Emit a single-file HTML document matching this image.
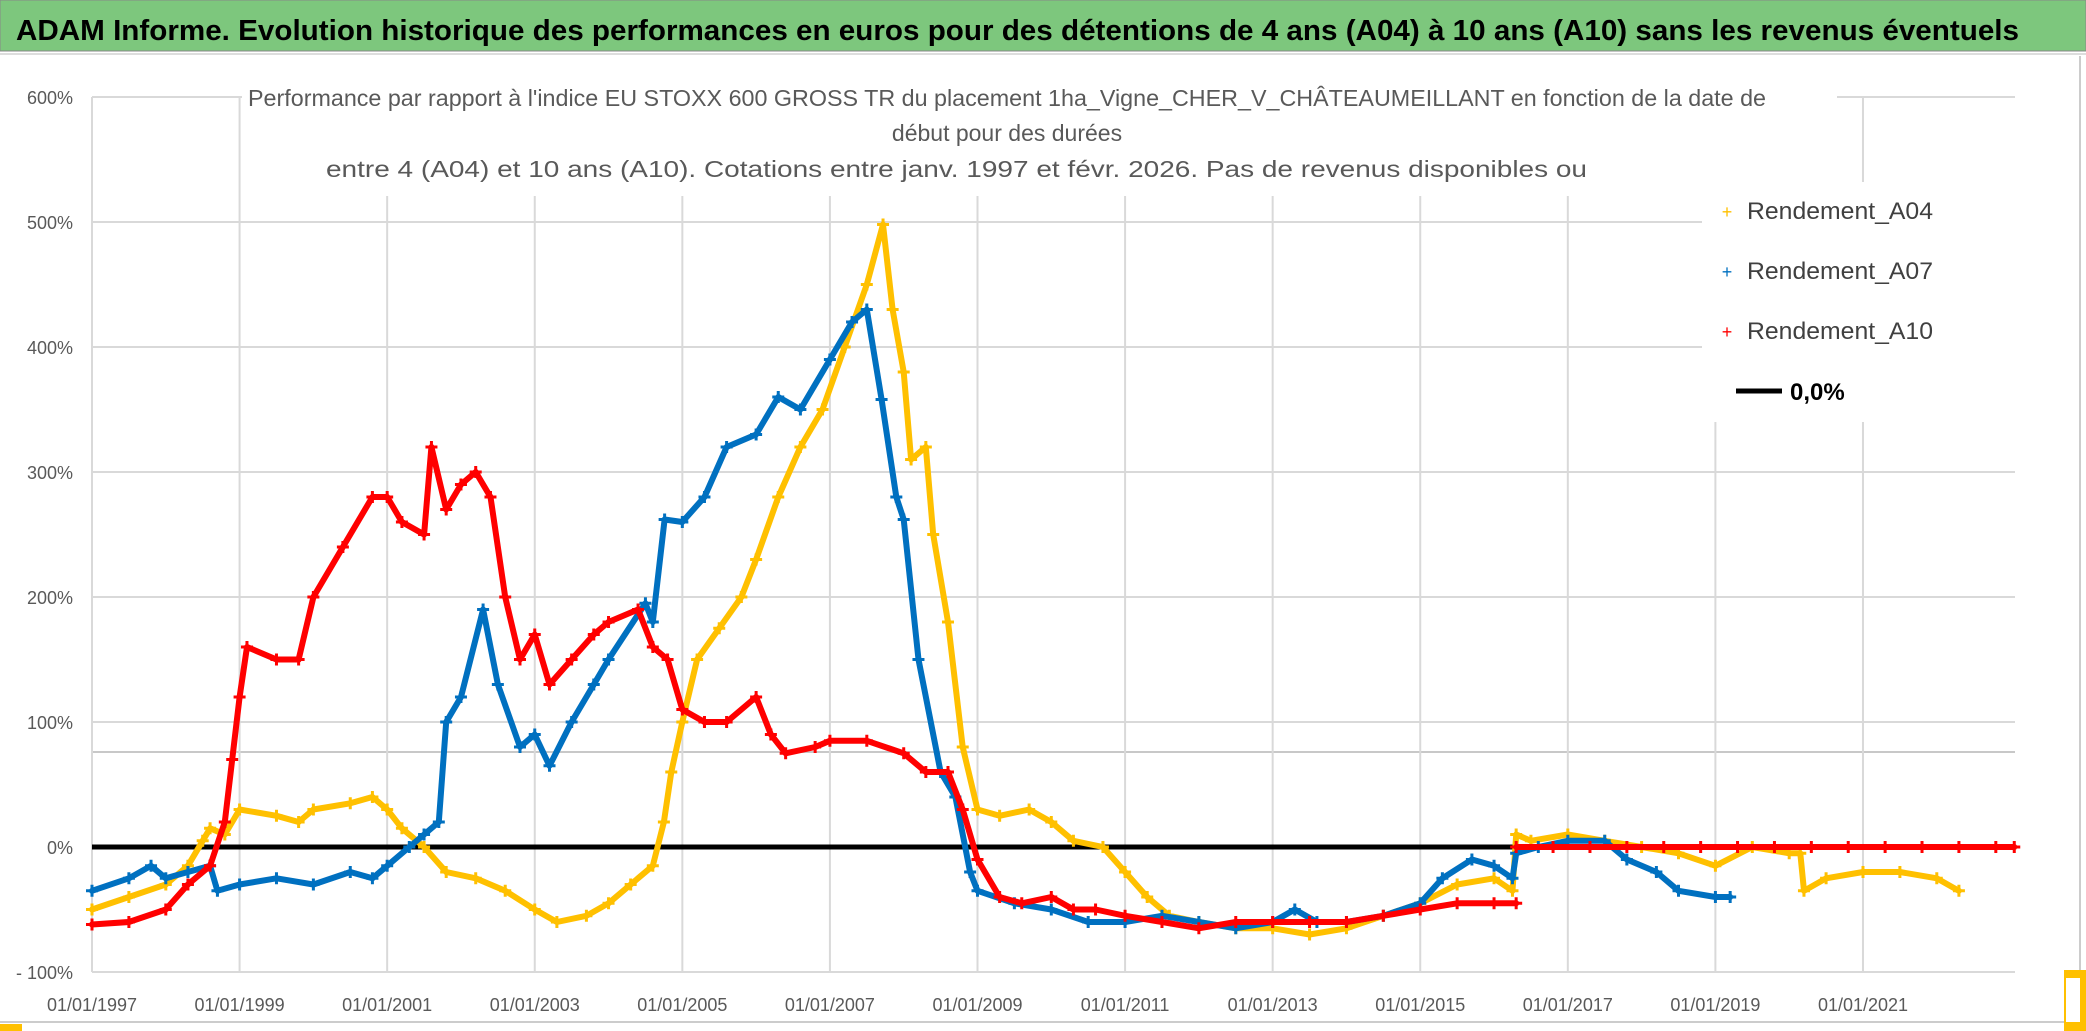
<!DOCTYPE html>
<html><head><meta charset="utf-8"><style>
html,body{margin:0;padding:0;background:#fff;}
svg{display:block;font-family:"Liberation Sans",sans-serif;}
</style></head><body>
<svg id="chart" width="2086" height="1031" viewBox="0 0 2086 1031" xmlns="http://www.w3.org/2000/svg">
<rect x="0" y="0" width="2086" height="1031" fill="#fff"/>
<rect x="0" y="0" width="2086" height="51" fill="#7dc77d" stroke="#888" stroke-width="1"/>
<line x1="0" y1="54" x2="2086" y2="54" stroke="#ddd" stroke-width="2"/>
<text x="16" y="40" font-size="29" font-weight="bold" fill="#000" textLength="2003" lengthAdjust="spacingAndGlyphs">ADAM Informe. Evolution historique des performances en euros pour des détentions de 4 ans (A04) à 10 ans (A10) sans les revenus éventuels</text>
<g id="grid"></g>
<g id="axes"></g>
<g id="series"></g>
<rect x="242" y="70" width="1595" height="126" fill="#fff"/>
<g fill="#595959" font-size="23">
<text x="248" y="106" textLength="1518" lengthAdjust="spacingAndGlyphs">Performance par rapport à l'indice EU STOXX 600 GROSS TR  du placement 1ha_Vigne_CHER_V_CHÂTEAUMEILLANT en fonction de la date de</text>
<text x="1007" y="141" text-anchor="middle">début pour des durées</text>
<text x="326" y="177" textLength="1261" lengthAdjust="spacingAndGlyphs">entre 4 (A04) et 10 ans (A10). Cotations entre janv. 1997 et févr. 2026. Pas de revenus disponibles ou</text>
</g>
<rect x="1702" y="182" width="320" height="240" fill="#fff"/>
<g font-size="24" fill="#404040">
<g><text x="1727" y="218" fill="#FFC000" font-size="18" text-anchor="middle">+</text><text x="1747" y="219" textLength="186" lengthAdjust="spacingAndGlyphs">Rendement_A04</text></g>
<g><text x="1727" y="278" fill="#0070C0" font-size="18" text-anchor="middle">+</text><text x="1747" y="279" textLength="186" lengthAdjust="spacingAndGlyphs">Rendement_A07</text></g>
<g><text x="1727" y="338" fill="#FF0000" font-size="18" text-anchor="middle">+</text><text x="1747" y="339" textLength="186" lengthAdjust="spacingAndGlyphs">Rendement_A10</text></g>
<g><line x1="1736" y1="391" x2="1782" y2="391" stroke="#000" stroke-width="5"/><text x="1790" y="400" font-weight="bold" fill="#000">0,0%</text></g>
</g>
<line x1="2080" y1="56" x2="2080" y2="1022" stroke="#ccc" stroke-width="2"/>
<line x1="0" y1="1022" x2="2080" y2="1022" stroke="#ccc" stroke-width="2"/>
<rect x="0" y="1024" width="22" height="7" fill="#FFC000"/>
<rect x="2064" y="970" width="22" height="61" fill="#FFC000"/>
<rect x="2066" y="978" width="14" height="44" fill="#fff"/>
</svg>
<script>
const yTicks=[600,500,400,300,200,100,0,-100];
const yTickLabels=["600%","500%","400%","300%","200%","100%","0%","- 100%"];
const xTicks=[1997,1999,2001,2003,2005,2007,2009,2011,2013,2015,2017,2019,2021];
const xTickLabels=["01/01/1997","01/01/1999","01/01/2001","01/01/2003","01/01/2005","01/01/2007","01/01/2009","01/01/2011","01/01/2013","01/01/2015","01/01/2017","01/01/2019","01/01/2021"];
const a04Dates=[1997.0,1997.5,1998.0,1998.3,1998.5,1998.6,1998.8,1999.0,1999.5,1999.8,2000.0,2000.5,2000.8,2001.0,2001.2,2001.5,2001.8,2002.2,2002.6,2003.0,2003.3,2003.7,2004.0,2004.3,2004.6,2004.75,2004.85,2005.0,2005.2,2005.5,2005.8,2006.0,2006.3,2006.6,2006.9,2007.2,2007.5,2007.72,2007.85,2008.0,2008.1,2008.3,2008.4,2008.6,2008.8,2009.0,2009.3,2009.7,2010.0,2010.3,2010.7,2011.0,2011.3,2011.6,2012.0,2012.5,2013.0,2013.5,2014.0,2014.5,2015.0,2015.5,2016.0,2016.25,2016.3,2016.5,2017.0,2017.5,2018.0,2018.5,2019.0,2019.5,2020.0,2020.15,2020.2,2020.5,2021.0,2021.5,2022.0,2022.3];
const a04Values=[-50,-40,-30,-15,5,15,10,30,25,20,30,35,40,30,15,0,-20,-25,-35,-50,-60,-55,-45,-30,-15,20,60,100,150,175,200,230,280,320,350,400,450,498,430,380,310,320,250,180,80,30,25,30,20,5,0,-20,-40,-55,-60,-65,-65,-70,-65,-55,-45,-30,-25,-35,10,5,10,5,0,-5,-15,0,-5,-5,-35,-25,-20,-20,-25,-35];
const a07Dates=[1997.0,1997.5,1997.8,1998.0,1998.3,1998.6,1998.7,1999.0,1999.5,2000.0,2000.5,2000.8,2001.0,2001.3,2001.5,2001.7,2001.8,2002.0,2002.3,2002.5,2002.8,2003.0,2003.2,2003.5,2003.8,2004.0,2004.5,2004.6,2004.76,2005.0,2005.3,2005.6,2006.0,2006.3,2006.6,2007.0,2007.3,2007.5,2007.7,2007.9,2008.0,2008.2,2008.5,2008.7,2008.9,2009.0,2009.5,2010.0,2010.5,2011.0,2011.5,2012.0,2012.5,2013.0,2013.3,2013.6,2014.0,2014.5,2015.0,2015.3,2015.7,2016.0,2016.25,2016.3,2016.6,2017.0,2017.5,2017.8,2018.2,2018.5,2019.0,2019.2];
const a07Values=[-35,-25,-15,-25,-20,-15,-35,-30,-25,-30,-20,-25,-15,0,10,20,100,120,190,130,80,90,65,100,130,150,195,180,262,260,280,320,330,360,350,390,420,430,358,280,262,150,60,40,-20,-35,-45,-50,-60,-60,-55,-60,-65,-60,-50,-60,-60,-55,-45,-25,-10,-15,-25,-5,0,5,5,-10,-20,-35,-40,-40];
const a10Dates=[1997.0,1997.5,1998.0,1998.3,1998.6,1998.8,1998.9,1999.0,1999.1,1999.5,1999.8,2000.0,2000.4,2000.8,2001.0,2001.2,2001.5,2001.6,2001.8,2002.0,2002.2,2002.4,2002.6,2002.8,2003.0,2003.2,2003.5,2003.8,2004.0,2004.4,2004.6,2004.8,2005.0,2005.3,2005.6,2006.0,2006.2,2006.4,2006.8,2007.0,2007.5,2008.0,2008.3,2008.6,2008.8,2009.0,2009.3,2009.6,2010.0,2010.3,2010.6,2011.0,2011.5,2012.0,2012.5,2013.0,2013.5,2014.0,2014.5,2015.0,2015.5,2016.0,2016.3];
const a10Values=[-62,-60,-50,-30,-15,20,70,120,160,150,150,200,240,280,280,260,250,320,270,290,300,280,200,150,170,130,150,170,180,190,160,150,110,100,100,120,90,75,80,85,85,75,60,60,30,-10,-40,-45,-40,-50,-50,-55,-60,-65,-60,-60,-60,-60,-55,-50,-45,-45,-45];
const a10bDates=[2016.3,2016.8,2017.3,2017.8,2018.3,2018.8,2019.3,2019.8,2020.3,2020.8,2021.3,2021.8,2022.3,2022.8,2023.05];
const a10bValues=[0,0,0,0,0,0,0,0,0,0,0,0,0,0,0];

const NS="http://www.w3.org/2000/svg";
const X0=92,X1=2015,Y0=972,Y1=97,T0=1997,T1=2023.06,V0=-100,V1=600;
function xs(t){return X0+(t-T0)/(T1-T0)*(X1-X0);}
function ys(v){return Y0-(v-V0)/(V1-V0)*(Y0-Y1);}
function mk(tag,attrs,parent){const e=document.createElementNS(NS,tag);for(const k in attrs)e.setAttribute(k,attrs[k]);parent.appendChild(e);return e;}
const grid=document.getElementById('grid'),axes=document.getElementById('axes'),ser=document.getElementById('series');
yTicks.forEach((v,i)=>{
 const l=mk('line',{x1:X0,x2:X1,y1:ys(v),y2:ys(v),stroke:'#d9d9d9','stroke-width':2},grid);
 
 
 const t=mk('text',{x:73,y:ys(v)+7,'text-anchor':'end','font-size':18,fill:'#595959'},axes);
 t.textContent=yTickLabels[i];
 
 
});
const extra=mk('line',{x1:X0,x2:X1,y1:752,y2:752,stroke:'#c8c8c8','stroke-width':2},grid);


xTicks.forEach((t,i)=>{
 const l=mk('line',{x1:xs(t),x2:xs(t),y1:Y1,y2:Y0,stroke:'#d9d9d9','stroke-width':2},grid);
 
 
 const tx=mk('text',{x:xs(t),y:1011,'text-anchor':'middle','font-size':18,fill:'#595959'},axes);
 tx.textContent=xTickLabels[i];
 
 
});
const zl=mk('line',{x1:X0,x2:X1,y1:ys(0),y2:ys(0),stroke:'#000','stroke-width':5},ser);


function drawSeries(dates,vals,color,name){
 const g=mk('g',{},ser);
 
 
 const pts=dates.map((d,i)=>xs(d).toFixed(1)+','+ys(vals[i]).toFixed(1)).join(' ');
 const pl=mk('polyline',{points:pts,fill:'none',stroke:color,'stroke-width':6,'stroke-linejoin':'round','stroke-linecap':'round'},g);
 
 
 dates.forEach((d,i)=>{
  const x=xs(d),y=ys(vals[i]);
  const p=mk('path',{d:`M${x-6},${y}H${x+6}M${x},${y-6}V${y+6}`,stroke:color,'stroke-width':3},g);
  
  
 });
}
drawSeries(a04Dates,a04Values,'#FFC000','series-a04');
drawSeries(a07Dates,a07Values,'#0070C0','series-a07');
drawSeries(a10Dates,a10Values,'#FF0000','series-a10');
drawSeries(a10bDates,a10bValues,'#FF0000','series-a10-flat');
</script>
</body></html>
